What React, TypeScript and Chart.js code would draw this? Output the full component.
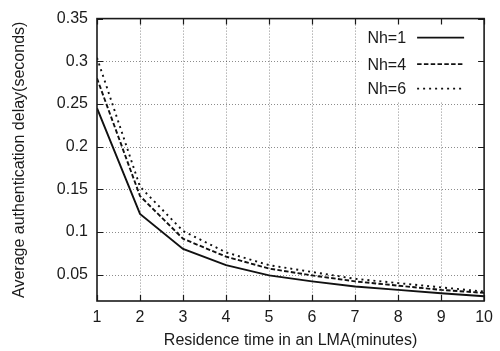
import React, { useEffect, useRef } from "react";
import { Chart, registerables } from "chart.js";

Chart.register(...registerables);

// ---- data ----
const residenceTimes = [1, 2, 3, 4, 5, 6, 7, 8, 9, 10];
const delayNh1 = [0.245, 0.121, 0.080, 0.061, 0.049, 0.042, 0.036, 0.032, 0.028, 0.0245];
const delayNh4 = [0.280, 0.142, 0.092, 0.071, 0.057, 0.049, 0.042, 0.037, 0.032, 0.0285];
const delayNh6 = [0.304, 0.153, 0.101, 0.076, 0.061, 0.053, 0.045, 0.040, 0.035, 0.030];
const seriesLabels = ["Nh=1", "Nh=4", "Nh=6"];
const xTickValues = [1, 2, 3, 4, 5, 6, 7, 8, 9, 10];
const yTickValues = [0.05, 0.1, 0.15, 0.2, 0.25, 0.3, 0.35];
const yTickLabels = ["0.05", "0.1", "0.15", "0.2", "0.25", "0.3", "0.35"];
const xTitle = "Residence time in an LMA(minutes)";
const yTitle = "Average authentication delay(seconds)";
const yMin = 0.019;
const yMax = 0.35;

const FONT = "'Liberation Sans', Arial, Helvetica, sans-serif";
const TEXT = "#1a1a1a";
const GRID = "rgba(0,0,0,0.45)";

const lineDashes: number[][] = [[], [4.5, 2.3], [2, 4]];

const framePlugin = {
  id: "gnuFrame",
  beforeDatasetsDraw(chart: any) {
    const { ctx, chartArea: a, scales } = chart;
    ctx.save();
    // dotted grid
    ctx.strokeStyle = GRID;
    ctx.lineWidth = 1;
    ctx.setLineDash([1, 2]);
    ctx.beginPath();
    for (const v of xTickValues) {
      const px = Math.round(scales.x.getPixelForValue(v)) + 0.5;
      if (px <= a.left + 1 || px >= a.right - 1) continue;
      ctx.moveTo(px, a.top);
      ctx.lineTo(px, a.bottom);
    }
    for (const v of yTickValues) {
      const py = Math.round(scales.y.getPixelForValue(v)) + 0.5;
      if (py <= a.top + 1 || py >= a.bottom - 1) continue;
      ctx.moveTo(a.left, py);
      ctx.lineTo(a.right, py);
    }
    ctx.stroke();
    // legend area is opaque (clears the grid behind it)
    ctx.fillStyle = "#ffffff";
    ctx.fillRect(a.right - 123, a.top + 1, 122, 82);
    ctx.restore();
  },
  afterDatasetsDraw(chart: any) {
    const { ctx, chartArea: a, scales } = chart;
    ctx.save();
    // inward ticks
    ctx.strokeStyle = TEXT;
    ctx.lineWidth = 1.2;
    ctx.setLineDash([]);
    ctx.beginPath();
    for (const v of xTickValues) {
      const px = Math.round(scales.x.getPixelForValue(v)) + 0.5;
      ctx.moveTo(px, a.bottom);
      ctx.lineTo(px, a.bottom - 6);
      ctx.moveTo(px, a.top);
      ctx.lineTo(px, a.top + 6);
    }
    for (const v of yTickValues) {
      const py = Math.round(scales.y.getPixelForValue(v)) + 0.5;
      ctx.moveTo(a.left, py);
      ctx.lineTo(a.left + 6, py);
      ctx.moveTo(a.right, py);
      ctx.lineTo(a.right - 6, py);
    }
    ctx.stroke();
    // frame
    ctx.lineWidth = 1.6;
    ctx.strokeRect(a.left, a.top, a.right - a.left, a.bottom - a.top);

    // legend
    ctx.font = `16px ${FONT}`;
    ctx.fillStyle = TEXT;
    ctx.textAlign = "right";
    ctx.textBaseline = "middle";
    const rowsY = [19, 45.5, 70];
    chart.data.datasets.forEach((ds: any, i: number) => {
      const y = a.top + rowsY[i];
      ctx.fillText(ds.label, a.right - 78, y + 1);
      ctx.beginPath();
      ctx.setLineDash(ds.borderDash || []);
      ctx.lineWidth = ds.borderWidth;
      ctx.strokeStyle = ds.borderColor;
      ctx.moveTo(a.right - 67, y);
      ctx.lineTo(a.right - 20, y);
      ctx.stroke();
    });
    ctx.restore();
  },
};

export default function App() {
  const canvasRef = useRef<HTMLCanvasElement | null>(null);

  useEffect(() => {
    const canvas = canvasRef.current;
    if (!canvas) return;
    const seriesValues = [delayNh1, delayNh4, delayNh6];
    const chart = new Chart(canvas, {
      type: "line",
      data: {
        datasets: seriesValues.map((vals, i) => ({
          label: seriesLabels[i],
          data: residenceTimes.map((x, j) => ({ x, y: vals[j] })),
          borderColor: "#111111",
          borderWidth: 1.9,
          borderDash: lineDashes[i],
          pointRadius: 0,
          fill: false,
          tension: 0,
        })),
      },
      options: {
        animation: false,
        responsive: false,
        maintainAspectRatio: false,
        layout: { padding: { top: 16, right: 15, left: 0, bottom: 0 } },
        plugins: {
          legend: { display: false },
          tooltip: { enabled: false },
        },
        scales: {
          x: {
            type: "linear",
            min: 1,
            max: 10,
            afterBuildTicks: (s: any) => {
              s.ticks = xTickValues.map((v) => ({ value: v }));
            },
            afterFit: (s: any) => {
              s.height = 50;
            },
            grid: { display: false, drawTicks: false },
            border: { display: false },
            ticks: {
              color: TEXT,
              font: { family: FONT, size: 16 },
              padding: 7,
              maxRotation: 0,
              autoSkip: false,
              callback: (v: any) => String(v),
            },
            title: {
              display: true,
              text: xTitle,
              color: TEXT,
              font: { family: FONT, size: 16 },
              padding: { top: 0, bottom: 1 },
            },
          },
          y: {
            type: "linear",
            min: yMin,
            max: yMax,
            afterBuildTicks: (s: any) => {
              s.ticks = yTickValues.map((v) => ({ value: v }));
            },
            afterFit: (s: any) => {
              s.width = 97;
            },
            grid: { display: false, drawTicks: false },
            border: { display: false },
            ticks: {
              color: TEXT,
              font: { family: FONT, size: 16 },
              padding: 9,
              autoSkip: false,
              callback: (v: any) => {
                const idx = yTickValues.indexOf(v);
                return idx >= 0 ? yTickLabels[idx] : "";
              },
            },
            title: {
              display: true,
              text: yTitle,
              color: TEXT,
              font: { family: FONT, size: 16 },
              padding: { top: 10, bottom: 0 },
            },
          },
        },
      },
      plugins: [framePlugin],
    });
    return () => chart.destroy();
  }, []);

  return (
    <div style={{ position: "absolute", left: 0, top: 0, width: 500, height: 351, background: "#fff" }}>
      <canvas ref={canvasRef} width={500} height={351} style={{ display: "block" }} />
    </div>
  );
}
